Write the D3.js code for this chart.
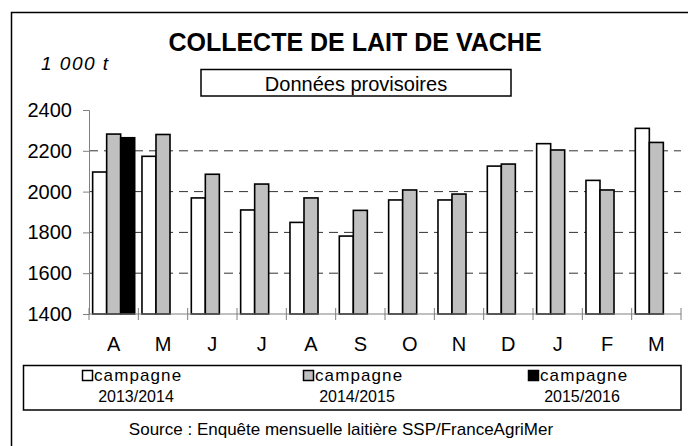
<!DOCTYPE html>
<html>
<head>
<meta charset="utf-8">
<script src="https://cdn.jsdelivr.net/npm/d3@7"></script>
<style>
  body { margin: 0; background: #fff; }
  svg { display: block; font-family: "Liberation Sans", Arial, sans-serif; }
</style>
</head>
<body>
<svg width="688" height="446"></svg>
<script>
// données (1 000 t)
const mois = ["A", "M", "J", "J", "A", "S", "O", "N", "D", "J", "F", "M"];
const campagne1314 = [2096, 2173, 1969, 1910, 1849, 1782, 1959, 1959, 2125, 2235, 2055, 2310];
const campagne1415 = [2282, 2280, 2085, 2037, 1969, 1908, 2008, 1988, 2135, 2204, 2008, 2241];
const campagne1516 = [2264, null, null, null, null, null, null, null, null, null, null, null];
const series = ["2013/2014", "2014/2015", "2015/2016"];
const couleurs = ["#ffffff", "#c0c0c0", "#000000"];
const yTicks = [1400, 1600, 1800, 2000, 2200, 2400];

const svg = d3.select("svg");

// cadre extérieur
svg.append("rect")
    .attr("x", 11.5).attr("y", 12.5)
    .attr("width", 700).attr("height", 460)
    .attr("fill", "none").attr("stroke", "#000").attr("stroke-width", 1.5);

// titre
svg.append("text")
    .attr("x", 355).attr("y", 51)
    .attr("text-anchor", "middle")
    .style("font-size", "25px").style("font-weight", "bold")
    .text("COLLECTE DE LAIT DE VACHE");

svg.append("text")
    .attr("x", 41).attr("y", 70)
    .style("font-size", "19px").style("font-style", "italic")
    .style("letter-spacing", "1.5px")
    .text("1 000 t");

// encadré "Données provisoires"
svg.append("rect")
    .attr("x", 201).attr("y", 69.5)
    .attr("width", 310).attr("height", 26.5)
    .attr("fill", "#fff").attr("stroke", "#000").attr("stroke-width", 1.5);
svg.append("text")
    .attr("x", 356).attr("y", 91)
    .attr("text-anchor", "middle")
    .style("font-size", "20px")
    .text("Données provisoires");

// échelles
const gauche = 89, droite = 681, haut = 110, bas = 314;
const x0 = d3.scaleBand()
    .domain(d3.range(mois.length))
    .range([gauche, droite]);
const x1 = d3.scaleBand()
    .domain(series)
    .range([0, x0.bandwidth()])
    .paddingOuter(0.26);
const y = d3.scaleLinear()
    .domain([1400, 2400])
    .range([bas, haut]);

// lignes de grille en pointillés
svg.append("g")
    .selectAll("line")
    .data(yTicks.filter(d => d > 1400 && d < 2400))
    .enter().append("line")
    .attr("x1", gauche).attr("x2", droite)
    .attr("y1", d => y(d)).attr("y2", d => y(d))
    .attr("stroke", "#333").attr("stroke-width", 1)
    .attr("stroke-dasharray", "9,6");

// axe vertical
const axisY = d3.axisLeft(y)
    .tickValues(yTicks)
    .tickFormat(d3.format("d"))
    .tickSize(6)
    .tickPadding(11);
const gY = svg.append("g")
    .attr("transform", `translate(${gauche}, 0)`)
    .call(axisY);
gY.select(".domain").attr("stroke", "#808080");
gY.selectAll(".tick line").attr("stroke", "#808080");
gY.selectAll(".tick text")
    .style("font-size", "20px")
    .attr("fill", "#000");

// barres
const donnees = mois.map((m, i) => ({
    i: i,
    valeurs: [campagne1314[i], campagne1415[i], campagne1516[i]]
}));

const groupes = svg.append("g")
    .selectAll("g")
    .data(donnees)
    .enter().append("g")
    .attr("transform", d => `translate(${x0(d.i)}, 0)`);

groupes.selectAll("rect")
    .data(d => d.valeurs.map((v, k) => ({ serie: series[k], v: v, k: k })).filter(e => e.v != null))
    .enter().append("rect")
    .attr("x", d => x1(d.serie))
    .attr("width", x1.bandwidth())
    .attr("y", d => y(d.v))
    .attr("height", d => bas - y(d.v))
    .attr("fill", d => couleurs[d.k])
    .attr("stroke", "#000")
    .attr("stroke-width", 1.6);

// axe horizontal avec graduations entre les mois
svg.append("line")
    .attr("x1", gauche).attr("x2", droite)
    .attr("y1", bas).attr("y2", bas)
    .attr("stroke", "#808080");
svg.append("g")
    .selectAll("line")
    .data(d3.range(mois.length + 1))
    .enter().append("line")
    .attr("x1", d => gauche + d * x0.step())
    .attr("x2", d => gauche + d * x0.step())
    .attr("y1", bas - 6).attr("y2", bas + 6)
    .attr("stroke", "#808080");

svg.append("g")
    .selectAll("text")
    .data(mois)
    .enter().append("text")
    .attr("x", (d, i) => x0(i) + x0.bandwidth() / 2)
    .attr("y", 351)
    .attr("text-anchor", "middle")
    .style("font-size", "20px")
    .text(d => d);

// légende
svg.append("rect")
    .attr("x", 23.5).attr("y", 365.5)
    .attr("width", 657.5).attr("height", 44.5)
    .attr("fill", "#fff").attr("stroke", "#000").attr("stroke-width", 1.5);

const legendeX = [94, 315, 540];
const leg = svg.append("g")
    .selectAll("g")
    .data(series)
    .enter().append("g")
    .attr("transform", (d, i) => `translate(${legendeX[i]}, 0)`);

leg.append("rect")
    .attr("x", -11.5).attr("y", 370.5)
    .attr("width", 10).attr("height", 10)
    .attr("fill", (d, i) => couleurs[i])
    .attr("stroke", "#000").attr("stroke-width", 1.5);
leg.append("text")
    .attr("x", 0).attr("y", 381)
    .style("font-size", "17px")
    .style("letter-spacing", "1.1px")
    .text("campagne");
leg.append("text")
    .attr("x", 42).attr("y", 402)
    .attr("text-anchor", "middle")
    .style("font-size", "16px")
    .text(d => d);

// source
svg.append("text")
    .attr("x", 341).attr("y", 435)
    .attr("text-anchor", "middle")
    .style("font-size", "17px")
    .text("Source : Enquête mensuelle laitière SSP/FranceAgriMer");
</script>
</body>
</html>
